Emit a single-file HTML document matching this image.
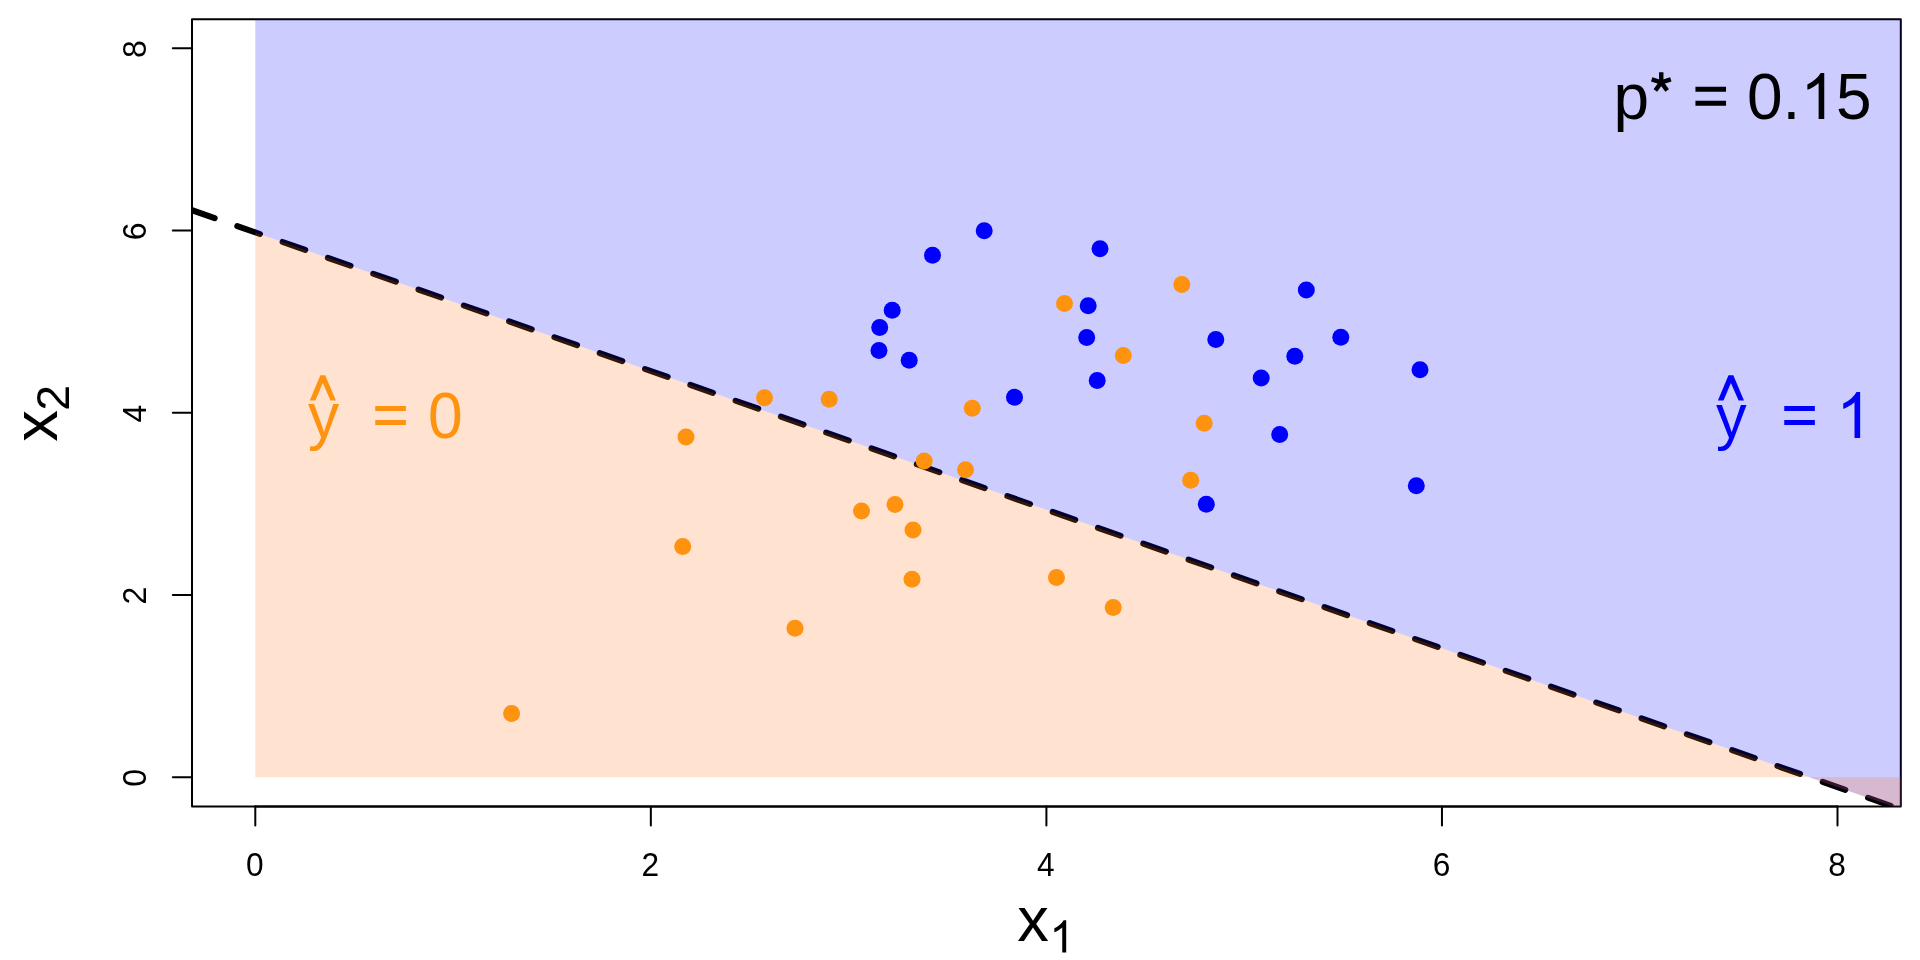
<!DOCTYPE html>
<html><head><meta charset="utf-8"><title>plot</title>
<style>
html,body{margin:0;padding:0;background:#fff;}
body{width:1920px;height:960px;overflow:hidden;}
svg{display:block;will-change:transform;}
text{font-family:"Liberation Sans",sans-serif;white-space:pre;}
.h{fill-opacity:0;}
</style></head><body>
<svg width="1920" height="960" viewBox="0 0 1920 960">
<rect x="0" y="0" width="1920" height="960" fill="#fff"/>
<defs><clipPath id="pc"><rect x="192" y="19.2" width="1708.8" height="787.2"/></clipPath></defs>
<!-- plot frame -->
<rect x="192" y="19.2" width="1708.8" height="787.2" fill="none" stroke="#000" stroke-width="2" stroke-linejoin="round"/>
<!-- axes -->
<g stroke="#000" stroke-width="2" stroke-linecap="round" fill="none">
<path d="M255.29 806.4H1837.51"/>
<path d="M255.29 806.4v19.2"/>
<path d="M650.84 806.4v19.2"/>
<path d="M1046.40 806.4v19.2"/>
<path d="M1441.96 806.4v19.2"/>
<path d="M1837.51 806.4v19.2"/>
<path d="M192 777.24V48.36"/>
<path d="M192 777.24h-19.2"/>
<path d="M192 595.02h-19.2"/>
<path d="M192 412.80h-19.2"/>
<path d="M192 230.58h-19.2"/>
<path d="M192 48.36h-19.2"/>
</g>
<!-- tick labels -->
<g font-size="32" fill="#000" text-anchor="middle">
<text transform="translate(254.79 875.50) scale(0.99 1.03)">0</text>
<text transform="translate(650.34 875.50) scale(0.99 1.03)">2</text>
<text transform="translate(1045.90 875.50) scale(0.99 1.03)">4</text>
<text transform="translate(1441.46 875.50) scale(0.99 1.03)">6</text>
<text transform="translate(1837.01 875.50) scale(0.99 1.03)">8</text>
<text transform="translate(145.90 777.94) rotate(-90) scale(1 1.05)">0</text>
<text transform="translate(145.90 595.72) rotate(-90) scale(1 1.05)">2</text>
<text transform="translate(145.90 413.50) rotate(-90) scale(1 1.05)">4</text>
<text transform="translate(145.90 231.28) rotate(-90) scale(1 1.05)">6</text>
<text transform="translate(145.90 49.06) rotate(-90) scale(1 1.05)">8</text>
</g>
<!-- axis titles -->
<g fill="#000" font-size="64">
<text transform="translate(1017.30 940.60) scale(0.987 0.976)">x<tspan class="h" font-size="45.4" dy="12.2">1</tspan></text><path d="M763 0H583V1147Q518 1085 412.5 1023Q307 961 223 930V1104Q374 1175 487 1276Q600 1377 647 1472H763Z" transform="translate(1049.50 952.50) scale(0.02187 -0.02187)"/>
<text transform="translate(57.20 441.70) rotate(-90) scale(0.987 0.976)">x<tspan font-size="47.1" dx="-0.6" dy="12.1">2</tspan></text>
</g>
<!-- plot region -->
<g clip-path="url(#pc)">
<path d="M192 210.20L1900.8 809.27" stroke="#000" stroke-width="6" stroke-linecap="round" stroke-dasharray="24 24" fill="none"/>
<path d="M255.29 232.39L255.29 14.2L1905.8 14.2L1905.8 811.02Z" fill="rgba(0,0,255,0.2)"/>
<path d="M255.29 777.24L255.29 232.39L1905.8 811.02L1905.8 777.24Z" fill="rgba(255,110,20,0.2)"/>
<g fill="#FF920E">
<circle cx="1064.5" cy="303.5" r="8.5"/>
<circle cx="1123.3" cy="355.6" r="8.5"/>
<circle cx="1181.8" cy="284.5" r="8.5"/>
<circle cx="972.3" cy="408.3" r="8.5"/>
<circle cx="924.2" cy="461.0" r="8.5"/>
<circle cx="965.5" cy="469.7" r="8.5"/>
<circle cx="1204.2" cy="423.3" r="8.5"/>
<circle cx="1190.7" cy="480.3" r="8.5"/>
<circle cx="764.5" cy="397.7" r="8.5"/>
<circle cx="829.2" cy="399.3" r="8.5"/>
<circle cx="686.0" cy="437.0" r="8.5"/>
<circle cx="861.5" cy="511.1" r="8.5"/>
<circle cx="895.0" cy="504.5" r="8.5"/>
<circle cx="682.7" cy="546.5" r="8.5"/>
<circle cx="795.0" cy="628.3" r="8.5"/>
<circle cx="913.0" cy="530.0" r="8.5"/>
<circle cx="912.0" cy="579.2" r="8.5"/>
<circle cx="1056.5" cy="577.5" r="8.5"/>
<circle cx="1113.2" cy="607.5" r="8.5"/>
<circle cx="511.6" cy="713.4" r="8.5"/>
</g>
<g fill="#0000FF">
<circle cx="984.2" cy="230.7" r="8.5"/>
<circle cx="932.5" cy="255.3" r="8.5"/>
<circle cx="1100.0" cy="248.8" r="8.5"/>
<circle cx="892.2" cy="310.2" r="8.5"/>
<circle cx="879.7" cy="327.5" r="8.5"/>
<circle cx="879.0" cy="350.6" r="8.5"/>
<circle cx="909.2" cy="360.3" r="8.5"/>
<circle cx="1088.2" cy="305.7" r="8.5"/>
<circle cx="1086.7" cy="337.6" r="8.5"/>
<circle cx="1097.2" cy="380.5" r="8.5"/>
<circle cx="1014.5" cy="397.3" r="8.5"/>
<circle cx="1306.3" cy="290.0" r="8.5"/>
<circle cx="1215.8" cy="339.5" r="8.5"/>
<circle cx="1340.8" cy="337.3" r="8.5"/>
<circle cx="1294.8" cy="356.3" r="8.5"/>
<circle cx="1261.2" cy="378.1" r="8.5"/>
<circle cx="1420.0" cy="369.7" r="8.5"/>
<circle cx="1279.7" cy="434.5" r="8.5"/>
<circle cx="1206.3" cy="504.3" r="8.5"/>
<circle cx="1416.3" cy="485.7" r="8.5"/>
</g>
</g>
<!-- annotations -->
<g font-size="64" fill="#000">
<text transform="translate(1613.60 118.90) scale(1 1.015)">p<tspan class="h">*</tspan> <tspan class="h">=</tspan> 0.<tspan class="h">1</tspan>5</text>
<path d="M1661.25 82.40L1661.25 72.34M1661.25 82.40L1670.82 79.29M1661.25 82.40L1651.68 79.29M1661.25 82.40L1667.16 90.54M1661.25 82.40L1655.34 90.54" fill="none" stroke="#000" stroke-width="4.4"/><path d="M1695.44 86.80h30.60v5h-30.60zM1695.44 100.80h30.60v5h-30.60z"/><path d="M763 0H583V1147Q518 1085 412.5 1023Q307 961 223 930V1104Q374 1175 487 1276Q600 1377 647 1472H763Z" transform="translate(1800.41 118.90) scale(0.03125 -0.03125)"/>
</g>
<g font-size="64" fill="#FF920E">
<text transform="translate(307.95 438.00) scale(0.975 1.005)">y <tspan class="h" dx="15.60">=</tspan> <tspan dx="2.49">0</tspan></text>
<path d="M309.8 400.4L320.4 375.2H325.2L335.9 400.4H330.5L322.8 382.9L315.4 400.4Z"/><path d="M375.26 405.90h30.60v5h-30.60zM375.26 419.90h30.60v5h-30.60z"/>
</g>
<g font-size="64" fill="#0000FF">
<text transform="translate(1715.90 438.00) scale(0.958 0.982)">y <tspan class="h" dx="17.86">=</tspan> <tspan class="h" dx="2.88">1</tspan></text>
<path transform="translate(1408.1 0)" d="M309.8 400.4L320.4 375.2H325.2L335.9 400.4H330.5L322.8 382.9L315.4 400.4Z"/><path d="M1784.26 405.90h30.60v5h-30.60zM1784.26 419.90h30.60v5h-30.60z"/><path d="M763 0H583V1147Q518 1085 412.5 1023Q307 961 223 930V1104Q374 1175 487 1276Q600 1377 647 1472H763Z" transform="translate(1836.30 438.00) scale(0.03125 -0.03125)"/>
</g>
</svg>
</body></html>
